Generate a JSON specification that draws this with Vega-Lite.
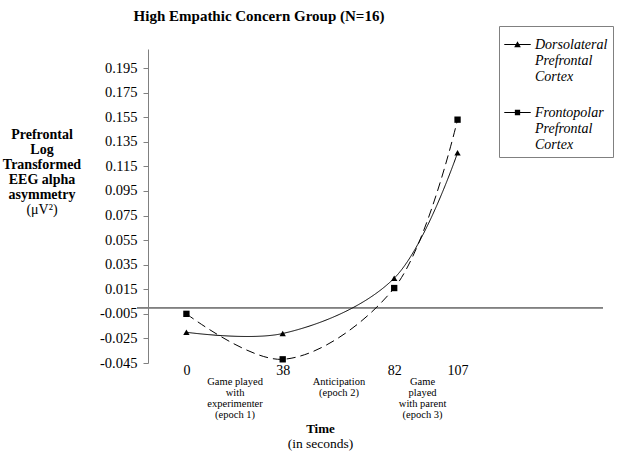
{
  "$schema": "https://vega.github.io/schema/vega-lite/v6.json",
  "width": 466,
  "height": 314,
  "autosize": {"type": "none"},
  "padding": {"left": 137, "top": 49, "right": 17, "bottom": 94},
  "background": "white",
  "title": {
    "text": "High Empathic Concern Group (N=16)",
    "font": "Liberation Serif",
    "fontSize": 15,
    "fontWeight": "bold",
    "color": "black",
    "anchor": "middle",
    "dx": -111,
    "offset": 2
  },
  "data": {
    "values": [
      {"series": "Dorsolateral Prefrontal Cortex", "t": 0, "v": -0.020},
      {"series": "Dorsolateral Prefrontal Cortex", "t": 38, "v": -0.021},
      {"series": "Dorsolateral Prefrontal Cortex", "t": 82, "v": 0.024},
      {"series": "Dorsolateral Prefrontal Cortex", "t": 107, "v": 0.126},
      {"series": "Frontopolar Prefrontal Cortex", "t": 0, "v": -0.005},
      {"series": "Frontopolar Prefrontal Cortex", "t": 38, "v": -0.042},
      {"series": "Frontopolar Prefrontal Cortex", "t": 82, "v": 0.016},
      {"series": "Frontopolar Prefrontal Cortex", "t": 107, "v": 0.153}
    ]
  },
  "layer": [
    {
      "mark": {"type": "rule", "color": "#808080", "strokeWidth": 1},
      "encoding": {
        "y": {"datum": 0, "type": "quantitative", "axis": null}
      }
    },
    {
      "mark": {"type": "line", "interpolate": "catmull-rom", "color": "black", "strokeWidth": 1},
      "encoding": {
        "x": {
          "field": "t", "type": "quantitative",
          "scale": {"domain": [-19.5, 164.4], "nice": false, "zero": false},
          "axis": {
            "orient": "bottom", "values": [0, 38, 82, 107], "format": "d",
            "grid": false, "domain": false, "ticks": false, "tickSize": 0, "labelPadding": 0,
            "labelFont": "Liberation Serif", "labelFontSize": 14, "labelColor": "black",
            "labelFlush": false, "labelOverlap": false,
            "title": "Time", "titleFont": "Liberation Serif", "titleFontSize": 13, "titleFontWeight": "bold",
            "titleColor": "black", "titleX": 183, "titleY": 65, "titleBaseline": "middle", "titleAlign": "center"
          }
        },
        "y": {
          "field": "v", "type": "quantitative",
          "scale": {"domain": [-0.045, 0.2105], "nice": false, "zero": false},
          "axis": {
            "orient": "left", "offset": -11,
            "values": [-0.045, -0.025, -0.005, 0.015, 0.035, 0.055, 0.075, 0.095, 0.115, 0.135, 0.155, 0.175, 0.195],
            "labelExpr": "replace(format(datum.value, '.3f'), '\u2212', '-')",
            "grid": false, "domainColor": "#808080", "tickColor": "#808080", "tickSize": 5, "labelPadding": 6,
            "labelFont": "Liberation Serif", "labelFontSize": 14.5, "labelColor": "black",
            "labelFlush": false, "labelOverlap": false,
            "title": ["Prefrontal", "Log", "Transformed", "EEG alpha", "asymmetry"],
            "titleFont": "Liberation Serif", "titleFontSize": 14, "titleFontWeight": "bold", "titleColor": "black",
            "titleAngle": 0, "titleAlign": "center", "titleBaseline": "middle",
            "titleX": -106.5, "titleY": 85, "titleLineHeight": 15
          }
        },
        "strokeDash": {
          "field": "series", "type": "nominal",
          "scale": {"range": [[1, 0], [9, 5]]},
          "legend": null
        }
      }
    },
    {
      "mark": {"type": "point", "filled": true, "color": "black", "size": 40, "opacity": 1},
      "encoding": {
        "x": {
          "field": "t", "type": "quantitative",
          "axis": {
            "orient": "bottom", "values": [19, 60, 93],
            "grid": false, "domain": false, "ticks": false, "tickSize": 0, "labelPadding": 13,
            "labelBaseline": "top", "labelLineHeight": 11.3,
            "labelExpr": "datum.value == 19 ? ['Game played', 'with', 'experimenter', '(epoch 1)'] : datum.value == 60 ? ['Anticipation', '(epoch 2)'] : ['Game', 'played', 'with parent', '(epoch 3)']",
            "labelFont": "Liberation Serif", "labelFontSize": 10.5, "labelColor": "black",
            "labelFlush": false, "labelOverlap": false,
            "title": "(in seconds)", "titleFont": "Liberation Serif", "titleFontSize": 13.5, "titleFontWeight": "normal",
            "titleColor": "black", "titleX": 183, "titleY": 80, "titleBaseline": "middle", "titleAlign": "center"
          }
        },
        "y": {
          "field": "v", "type": "quantitative",
          "axis": {
            "orient": "left", "offset": -11, "labels": false, "ticks": false, "domain": false, "grid": false,
            "title": "(\u03bcV\u00b2)", "titleFont": "Liberation Serif", "titleFontSize": 14, "titleFontWeight": "normal",
            "titleColor": "black", "titleAngle": 0, "titleAlign": "center", "titleBaseline": "middle",
            "titleX": -106.5, "titleY": 160
          }
        },
        "shape": {
          "field": "series", "type": "nominal",
          "scale": {"range": ["triangle-up", "square"]},
          "legend": null
        }
      }
    },
    {
      "transform": [{"filter": "false"}],
      "mark": {"type": "point", "filled": true, "color": "black", "opacity": 1},
      "encoding": {
        "shape": {
          "field": "series", "type": "nominal",
          "scale": {
            "domain": ["Dorsolateral Prefrontal Cortex", "Frontopolar Prefrontal Cortex"],
            "range": ["M-1,-0.04H1V0.04H-1ZM0,-0.24L0.25,0.2H-0.25Z", "M-1,-0.04H1V0.04H-1ZM-0.2,-0.2H0.2V0.2H-0.2Z"]
          },
          "legend": {
            "title": null, "orient": "none", "legendX": 362, "legendY": -23,
            "strokeColor": "#808080", "padding": 5,
            "symbolSize": 700, "symbolStrokeWidth": 0, "symbolFillColor": "black", "symbolOpacity": 1,
            "labelFont": "Liberation Serif", "labelFontStyle": "italic", "labelFontSize": 14, "labelColor": "black",
            "labelExpr": "split(datum.label, ' ')", "labelLimit": 200, "labelBaseline": "middle", "labelOffset": 4,
            "rowPadding": 15
          }
        }
      }
    }
  ],
  "resolve": {
    "axis": {"x": "independent", "y": "independent"},
    "scale": {"shape": "independent"}
  },
  "config": {"view": {"stroke": null}}
}
